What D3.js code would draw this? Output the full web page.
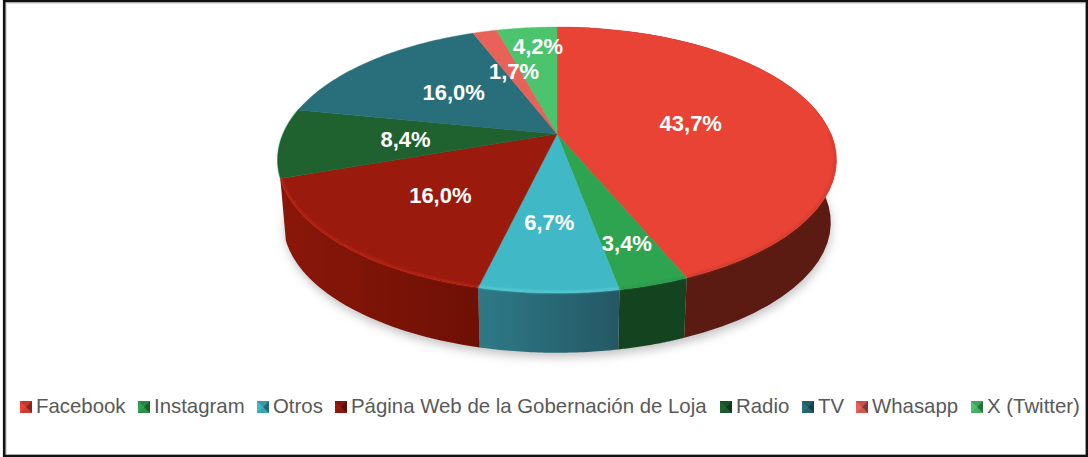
<!DOCTYPE html>
<html><head><meta charset="utf-8">
<script src="https://cdn.jsdelivr.net/npm/d3@7"></script>
<style>html,body{margin:0;padding:0;background:#fff}svg{display:block}</style>
</head><body><svg id="c" width="1088" height="457"></svg>
<script>
const categories=["Facebook","Instagram","Otros","Página Web de la Gobernación de Loja","Radio","TV","Whasapp","X (Twitter)"];
const values=[43.7,3.4,6.7,16.0,8.4,16.0,1.7,4.2];
const labels=["43,7%","3,4%","6,7%","16,0%","8,4%","16,0%","1,7%","4,2%"];
const topColors=["#e94335","#2fa450","#40b8c5","#9a1a0d","#1f6230","#286f7b","#e8625a","#4cc36d"];
const sideColors=[["#5c1b12","#5c1b12"],["#14431f","#14431f"],["#2f7a88","#235864"],["#8a1709","#6e1005"],["#1a5a2c","#1a5a2c"],["#1d5560","#1d5560"],["#8c3a35","#8c3a35"],["#2c7a44","#2c7a44"]];
const rimColors=["#c9382c","#2a9448","#5fd4de","#c8281a","#1f6230","#2a727f","#e8625a","#4cc36d"];
const legendMarkX=[20,138,257,335,720,802,856,971];
const labelRadius=[.5,.76,.61,.58,.55,.53,.57,.8];
const labelDx=[2,0,-3,0,0,1,1,6];
const labelDy=[1,1,0,1,0,-1,0,0];

const svg=d3.select("#c");
const cx=557,k=.1955;
const proj=(b,a,cy,th,r=1)=>{const u=r*Math.sin(th),v=r*Math.cos(th),d=1+k*v;return [cx+b*u/d,cy-a*v/d];};
const T=(th,r)=>proj(274,127.9,134,th,r), B=(th)=>proj(268.5,125.3,197,th);
const arcs=d3.pie().sort(null).value(d=>d)(values);
const samples=(a,b)=>d3.range(0,41).map(i=>a+(b-a)*i/40);
const line=d3.line();
const defs=svg.append("defs");
defs.append("filter").attr("id","sh").attr("x","-20%").attr("y","-20%").attr("width","140%").attr("height","140%").append("feGaussianBlur").attr("stdDeviation",5);
defs.append("filter").attr("id","rim").attr("x","-10%").attr("y","-10%").attr("width","120%").attr("height","120%").append("feGaussianBlur").attr("stdDeviation",.9);
categories.forEach((c,i)=>{
 const g=defs.append("linearGradient").attr("id","side"+i);
 g.append("stop").attr("offset","0%").attr("stop-color",sideColors[i][0]);
 g.append("stop").attr("offset","100%").attr("stop-color",sideColors[i][1]);
});
// frame
svg.append("rect").attr("width",1088).attr("height",457).attr("fill","#fff");
svg.append("rect").attr("x",5.5).attr("y",2.5).attr("width",1081).attr("height",453).attr("fill","none").attr("stroke","#ddd").attr("stroke-width",3);
svg.append("path").attr("d","M4.2,457V1H1087V456H4").attr("fill","none").attr("stroke","#111").attr("stroke-width",2.6);
const full=samples(0,2*Math.PI);
svg.append("path").attr("d",line(full.map(t=>{const p=B(t);return [p[0]+1,p[1]+5];}))+"Z").attr("fill","#c4c4c4").attr("filter","url(#sh)");
// sides: only the slices that reach the front show a wall
const front=arcs.filter(d=>d.index<4);
svg.append("g").selectAll("path").data(front).join("path")
 .attr("d",d=>{const s=samples(d.startAngle,d.endAngle);return line(s.map(t=>T(t)).concat(s.slice().reverse().map(B)))+"Z";})
 .attr("fill",d=>`url(#side${d.index})`);
// top
svg.append("g").selectAll("path").data(arcs).join("path")
 .attr("d",d=>line([T(0,0)].concat(samples(d.startAngle,d.endAngle).map(t=>T(t))))+"Z")
 .attr("fill",d=>topColors[d.index]).attr("stroke",d=>topColors[d.index]).attr("stroke-width",.4);
// bevel
svg.append("g").attr("filter","url(#rim)").selectAll("path").data(arcs.filter(d=>d.endAngle>Math.PI/2&&d.startAngle<3*Math.PI/2)).join("path")
 .attr("d",d=>line(samples(Math.max(d.startAngle,Math.PI/2),d.endAngle).map(t=>T(t,.995))))
 .attr("fill","none").attr("stroke",d=>rimColors[d.index]).attr("stroke-width",1.5);
// labels
svg.append("g").selectAll("text").data(arcs).join("text")
 .attr("transform",(d,i)=>{const p=T((d.startAngle+d.endAngle)/2,labelRadius[i]);return `translate(${p[0]+labelDx[i]},${p[1]+labelDy[i]})`;})
 .attr("text-anchor","middle").attr("dy","0.36em").attr("fill","#fff")
 .style("font","bold 22px 'Liberation Sans'").text((d,i)=>labels[i]);
// legend
const lg=svg.append("g").selectAll("g").data(categories).join("g").attr("transform",(d,i)=>`translate(${legendMarkX[i]},401)`);
lg.append("rect").attr("width",12).attr("height",12).attr("fill",(d,i)=>topColors[i]);
lg.append("path").attr("d","M0,0L12,0L6,6Z").attr("fill",(d,i)=>d3.color(topColors[i]).darker(.5));
lg.append("path").attr("d","M0,12L12,12L6,6Z").attr("fill",(d,i)=>d3.color(topColors[i]).darker(.3));
lg.append("path").attr("d","M12,0L12,12L6,6Z").attr("fill",(d,i)=>d3.color(topColors[i]).darker(1.6));
lg.append("text").attr("x",16).attr("y",5).attr("dy","0.36em").attr("fill","#595959")
 .style("font","20.4px 'Liberation Sans'").text(d=>d);
</script></body></html>
